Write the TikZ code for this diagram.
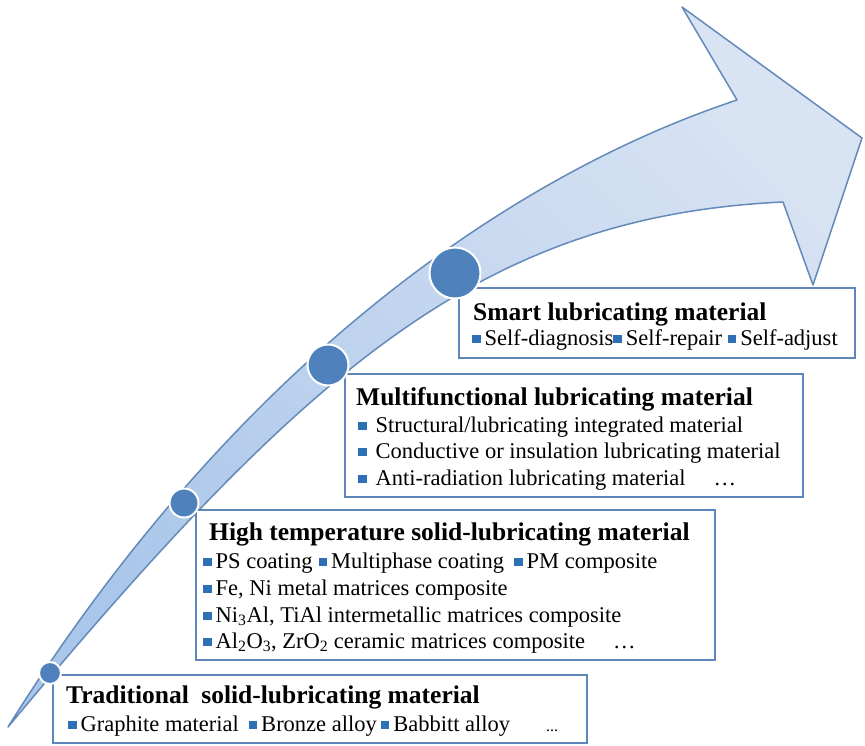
\documentclass[tikz,border=0pt]{standalone}
\usepackage{fontspec}
\setmainfont{Liberation Serif}
\usepackage{xcolor}
\definecolor{tailblue}{RGB}{170,198,234}
\definecolor{headblue}{RGB}{216,227,243}
\definecolor{edgeblue}{RGB}{100,138,186}
\definecolor{dotblue}{RGB}{79,129,189}
\definecolor{panelblue}{RGB}{94,134,186}
\definecolor{bulletblue}{RGB}{46,112,182}
\newcommand{\sq}{\textcolor{bulletblue}{\rule[2pt]{8.5pt}{8.5pt}}\hspace{4pt}}
\tikzset{
  ttl/.style={anchor=base west, inner sep=0pt, font=\fontsize{25.5}{30}\selectfont\bfseries},
  itm/.style={anchor=base west, inner sep=0pt, font=\fontsize{22.5}{27}\selectfont},
  panel/.style={draw=panelblue, line width=1.5pt, fill=white},
  dot/.style={circle, fill=dotblue, draw=white, line width=2pt, inner sep=0pt}
}
\begin{document}
\begin{tikzpicture}[x=1pt,y=-1pt]
    \useasboundingbox (0,0) rectangle (865,745);
    \path[draw=edgeblue, line width=1.5pt, line join=round, left color=tailblue, right color=headblue, shading angle=135]
      (8,727) .. controls (234,365) and (511,175) .. (737,100)
      -- (682,7) -- (862,138) -- (813,285) -- (783,202)
      .. controls (483,216) and (308,367) .. cycle;
    \draw[panel] (459,288) rectangle (855,358);
    \draw[panel] (345,374) rectangle (803,497);
    \draw[panel] (196,510) rectangle (715,660);
    \draw[panel] (53,675) rectangle (587,743);
    \node[dot, minimum size=22pt] (d1) at (50,673) {};
    \node[dot, minimum size=29pt] (d2) at (184,503) {};
    \node[dot, minimum size=41pt] (d3) at (328,365) {};
    \node[dot, minimum size=51pt] (d4) at (455,273) {};
    \node[ttl] (smart) at (473,320) {Smart lubricating material};
    \node[itm] (smart1) at (472,345) {\sq Self-diagnosis\sq Self-repair \sq Self-adjust};
    \node[ttl] (multi) at (356,405) {Multifunctional lubricating material};
    \node[itm] (multi1) at (358,432) {\sq\hspace{5pt}Structural/lubricating integrated material};
    \node[itm] (multi2) at (358,458) {\sq\hspace{5pt}Conductive or insulation lubricating material};
    \node[itm] (multi3) at (358,485) {\sq\hspace{5pt}Anti-radiation lubricating material\hspace{28pt}\ldots};
    \node[ttl] (high) at (209,540) {High temperature solid-lubricating material};
    \node[itm] (high1) at (203,568) {\sq PS coating\hspace{6pt}\sq Multiphase coating\hspace{10pt}\sq PM composite};
    \node[itm] (high2) at (203,595) {\sq Fe, Ni metal matrices composite};
    \node[itm] (high3) at (203,622) {\sq Ni\textsubscript{3}Al, TiAl intermetallic matrices composite};
    \node[itm] (high4) at (203,648) {\sq Al\textsubscript{2}O\textsubscript{3}, ZrO\textsubscript{2} ceramic matrices composite\hspace{28pt}\ldots};
    \node[ttl] (trad) at (66,703) {Traditional\hspace{6pt} solid-lubricating material};
    \node[itm] (trad1) at (68,731) {\sq Graphite material\hspace{10pt}\sq Bronze alloy\hspace{4pt}\sq Babbitt alloy\hspace{36pt}{\fontsize{16}{16}\selectfont ...}};
  \end{tikzpicture}
\end{document}
